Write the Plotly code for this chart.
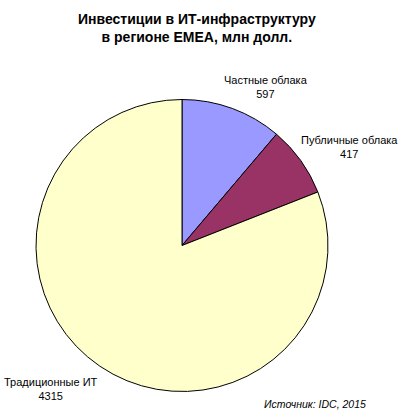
import plotly.graph_objects as go

categories = ["Частные облака", "Публичные облака", "Традиционные ИТ"]
values = [597, 417, 4315]
colors = ["#9999FF", "#993366", "#FFFFCC"]
title_lines = ["Инвестиции в ИТ-инфраструктуру", "в регионе EMEA, млн долл."]
source_text = "Источник: IDC, 2015"

W, H = 400, 416


def px_x(x):
    return x / W


def px_y(y):
    return 1 - y / H


# label anchor points in page pixels (x, y from top)
label_pos = [(266, 87), (349, 147), (51, 389)]

fig = go.Figure()
fig.add_trace(go.Pie(
    labels=categories,
    values=values,
    sort=False,
    direction="clockwise",
    rotation=0,
    marker=dict(colors=colors, line=dict(color="#000000", width=1)),
    textinfo="none",
    hoverinfo="label+value",
    domain=dict(x=[px_x(36), px_x(328)], y=[px_y(392), px_y(99)]),
    showlegend=False,
))

annotations = []
for (px, py), cat, val in zip(label_pos, categories, values):
    annotations.append(dict(
        x=px_x(px), y=px_y(py), xref="paper", yref="paper",
        text=f"{cat}<br>{val}", showarrow=False,
        font=dict(family="Liberation Sans, Arial", size=11, color="#000000"),
        align="center", xanchor="center", yanchor="middle",
    ))
annotations.append(dict(
    x=px_x(197), y=px_y(28), xref="paper", yref="paper",
    text="<b>" + "<br>".join(title_lines) + "</b>", showarrow=False,
    font=dict(family="Liberation Sans, Arial", size=14, color="#000000"),
    align="center", xanchor="center", yanchor="middle",
))
annotations.append(dict(
    x=px_x(315), y=px_y(404), xref="paper", yref="paper",
    text="<i>" + source_text + "</i>", showarrow=False,
    font=dict(family="Liberation Sans, Arial", size=10.5, color="#000000"),
    align="center", xanchor="center", yanchor="middle",
))

fig.update_layout(
    width=W, height=H,
    margin=dict(l=0, r=0, t=0, b=0),
    paper_bgcolor="#FFFFFF", plot_bgcolor="#FFFFFF",
    annotations=annotations,
)

# remove the default 8px page margin so the 400x416 figure fills the window
fig.write_html(
    "out.html",
    config={"displayModeBar": False},
    post_script="document.body.style.margin='0px';",
)
